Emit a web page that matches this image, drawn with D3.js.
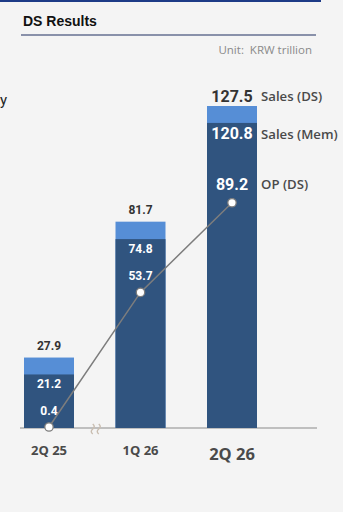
<!DOCTYPE html>
<html>
<head>
<meta charset="utf-8">
<script src="https://cdn.jsdelivr.net/npm/d3@7"></script>
<style>
  body { margin: 0; background: #f4f4f4; }
  svg { display: block; font-family: Roboto, "Noto Sans", sans-serif; }
</style>
</head>
<body>
<div id="chart"></div>
<script>
const WIDTH = 343;
const HEIGHT = 512;

// data (KRW trillion)
const quarters = ["2Q 25", "1Q 26", "2Q 26"];
const salesDS = [27.9, 81.7, 127.5];
const salesMem = [21.2, 74.8, 120.8];
const opDS = [0.4, 53.7, 89.2];
const seriesNames = ["Sales (DS)", "Sales (Mem)", "OP (DS)"];

const DARK = "#30547f";
const LIGHT = "#568ed6";
const LABEL = "#4a4a4a";

const svg = d3.select("#chart").append("svg")
  .attr("width", WIDTH)
  .attr("height", HEIGHT);

svg.append("rect").attr("width", WIDTH).attr("height", HEIGHT).attr("fill", "#f4f4f4");

// header
svg.append("line").attr("x1", 0).attr("x2", 321).attr("y1", 0.5).attr("y2", 0.5)
  .attr("stroke", "#1d3b87").attr("stroke-width", 3);
svg.append("text").attr("x", 23).attr("y", 26)
  .style("font-family", "'Liberation Sans', Arial, sans-serif")
  .attr("font-size", 14).attr("font-weight", "bold").attr("fill", "#111")
  .text("DS Results");
svg.append("line").attr("x1", 21).attr("x2", 316).attr("y1", 35).attr("y2", 35)
  .attr("stroke", "#1f2f60").attr("stroke-width", 1);
svg.append("text").attr("x", 312).attr("y", 54).attr("text-anchor", "end")
  .style("font-family", "'Open Sans', sans-serif")
  .attr("font-size", 11.5).attr("fill", "#8a8a8a")
  .attr("xml:space", "preserve")
  .text("Unit:  KRW trillion");
// cut-off text from the neighbouring panel
svg.append("text").attr("x", 7).attr("y", 105).attr("text-anchor", "end")
  .attr("font-size", 15).attr("fill", "#222").text("Memory");

// scales
const x = d3.scaleBand().domain(quarters).range([24, 257]).paddingInner(0.4536).paddingOuter(0);
const y = d3.scaleLinear().domain([0, 130]).range([428, 99.7]);
const cx = d => x(d) + x.bandwidth() / 2;

// baseline axis
const axis = d3.axisBottom(x).tickSize(0).tickPadding(0);
const gAxis = svg.append("g").attr("transform", `translate(0,${y(0)})`).call(axis);
gAxis.select(".domain").remove();
gAxis.append("line").attr("x1", 20).attr("x2", 317).attr("y1", 0).attr("y2", 0)
  .attr("stroke", "#8a8a8a").attr("stroke-width", 1.2);
gAxis.selectAll(".tick text")
  .attr("y", (d, i) => i === 2 ? 20 : 18)
  .attr("fill", LABEL)
  .attr("font-weight", "bold")
  .attr("font-size", (d, i) => i === 2 ? 16.5 : 13)
  .style("font-family", "'Open Sans', sans-serif");

// bars
const bars = svg.append("g");
bars.selectAll("rect.total").data(quarters).join("rect")
  .attr("class", "total")
  .attr("x", d => x(d)).attr("width", x.bandwidth())
  .attr("y", (d, i) => y(salesDS[i]))
  .attr("height", (d, i) => y(0) - y(salesDS[i]))
  .attr("fill", LIGHT);
bars.selectAll("rect.mem").data(quarters).join("rect")
  .attr("class", "mem")
  .attr("x", d => x(d)).attr("width", x.bandwidth())
  .attr("y", (d, i) => y(salesMem[i]))
  .attr("height", (d, i) => y(0) - y(salesMem[i]))
  .attr("fill", DARK);

// axis break marker
const brk = svg.append("g").attr("transform", `translate(${(x(quarters[0]) + x.bandwidth() + x(quarters[1])) / 2 + 2},${y(0)})`)
  .attr("fill", "none").attr("stroke", "#c9bdb0").attr("stroke-width", 1.4);
[-4, 2].forEach(dx => {
  brk.append("path").attr("d", `M${dx},-4 q3,2.5 0,5 q-3,2.5 0,5`);
});

// OP line
const line = d3.line().x((d, i) => cx(quarters[i])).y(d => y(d));
svg.append("path").datum(opDS).attr("d", line)
  .attr("fill", "none").attr("stroke", "#7d7d7d").attr("stroke-width", 1.5);
svg.selectAll("circle.op").data(opDS).join("circle")
  .attr("class", "op")
  .attr("cx", (d, i) => cx(quarters[i])).attr("cy", d => y(d))
  .attr("r", 4.2).attr("fill", "#fff").attr("stroke", "#7d7d7d").attr("stroke-width", 1.3);

// value labels
const big = i => i === 2;
svg.selectAll("text.tot").data(salesDS).join("text")
  .attr("class", "tot").attr("text-anchor", "middle")
  .attr("x", (d, i) => cx(quarters[i])).attr("y", (d, i) => y(d) - (big(i) ? 4 : 8))
  .attr("font-size", (d, i) => big(i) ? 16 : 12).attr("font-weight", "bold").attr("fill", "#333")
  .text(d => d.toFixed(1));
svg.selectAll("text.memv").data(salesMem).join("text")
  .attr("class", "memv").attr("text-anchor", "middle")
  .attr("x", (d, i) => cx(quarters[i])).attr("y", (d, i) => y(d) + (big(i) ? 16 : 14))
  .attr("font-size", (d, i) => big(i) ? 16 : 12).attr("font-weight", "bold").attr("fill", "#fff")
  .text(d => d.toFixed(1));
svg.selectAll("text.opv").data(opDS).join("text")
  .attr("class", "opv").attr("text-anchor", "middle")
  .attr("x", (d, i) => cx(quarters[i])).attr("y", (d, i) => y(d) - (big(i) ? 13 : 12))
  .attr("font-size", (d, i) => big(i) ? 16 : 12).attr("font-weight", "bold").attr("fill", "#fff")
  .text(d => d.toFixed(1));

// series names beside the last bar
const last = quarters[2];
const nameY = [y(salesDS[2]) - 5, y(salesMem[2]) + 16, y(opDS[2]) - 14];
svg.selectAll("text.sname").data(seriesNames).join("text")
  .attr("class", "sname")
  .attr("x", x(last) + x.bandwidth() + 4).attr("y", (d, i) => nameY[i])
  .style("font-family", "'Open Sans', sans-serif")
  .attr("font-size", 13.2).attr("font-weight", 600).attr("fill", LABEL)
  .text(d => d);
</script>
</body>
</html>
